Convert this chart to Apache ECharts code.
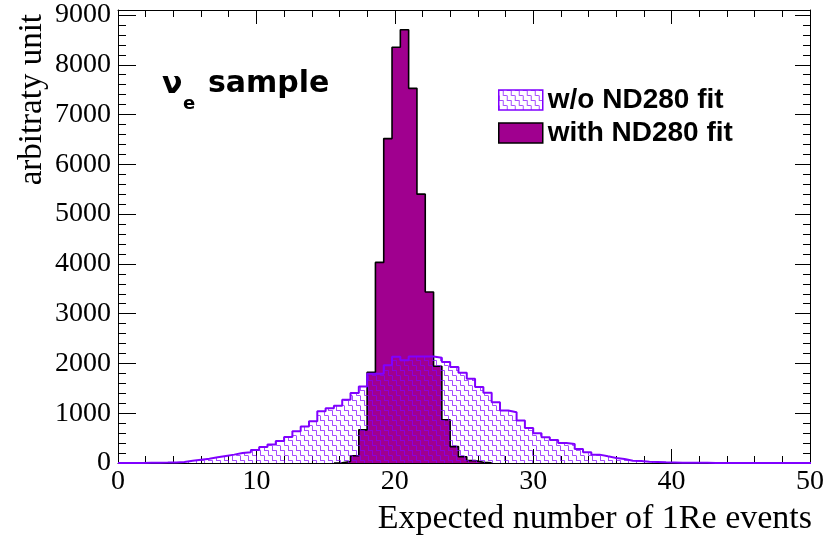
<!DOCTYPE html>
<html><head><meta charset="utf-8">
<script src="https://cdn.jsdelivr.net/npm/echarts@6/dist/echarts.min.js"></script>
<style>html,body{margin:0;padding:0;background:#fff}#c{width:838px;height:538px}</style>
</head><body><div id="c"></div>
<script>
// ---- data ----
const binWidth = 0.6;            // histogram bin width (bins start at 0)
const xRange = [0, 50];
const yRange = [0, 9000];
const seriesNames = ['w/o ND280 fit', 'with ND280 fit'];
// w/o ND280 fit, bins 0..83
const woFitValues = [
  0, 0, 1, 3, 5, 8, 12, 20, 47, 67,
  87, 114, 141, 168, 202, 215, 262, 323, 372, 443,
  524, 640, 732, 839, 1041, 1100, 1149, 1270, 1404, 1538,
  1795, 1795, 1962, 2135, 2062, 2140, 2140, 2140, 2116, 2029,
  1928, 1814, 1693, 1525, 1410, 1222, 1054, 1021, 853, 705,
  600, 517, 463, 403, 383, 282, 215, 168, 134, 101,
  80, 46, 40, 26, 20, 13, 10, 7, 5, 4,
  3, 2, 2, 1, 1, 1, 0, 0, 0, 0,
  0, 0, 0, 0
];
// with ND280 fit, starting at bin 26
const withFitFirstBin = 26;
const withFitValues = [5, 30, 147, 666, 1822, 4030, 6517, 8353, 8703, 7526, 5401, 3436, 1943, 868, 329, 127, 47, 15, 5];

function histPoints(first, vals) {
  const pts = [[first * binWidth, 0]];
  vals.forEach((v, i) => pts.push([(first + i) * binWidth, v]));
  pts.push([(first + vals.length) * binWidth, 0]);
  return pts;
}

function makeHatch() {
  const c = document.createElement('canvas');
  c.width = 8; c.height = 10;
  const g = c.getContext('2d');
  g.strokeStyle = 'rgba(128,0,255,0.7)';
  g.lineWidth = 1;
  g.beginPath();
  g.moveTo(0.5, 5.5); g.lineTo(0.5, 10);
  g.moveTo(0, 0.5); g.lineTo(4.5, 0.5); g.lineTo(4.5, 5.5); g.lineTo(8, 5.5);
  g.stroke();
  return c;
}
const hatch = { image: makeHatch(), repeat: 'repeat' };

const violet = '#8000ff';
const magenta = '#a0008f';
const black = '#000';
const serif = 'Liberation Serif';

const chart = echarts.init(document.getElementById('c'), null, { renderer: 'canvas' });

const frameAxis = { show: true, lineStyle: { color: black, width: 1 }, onZero: false };
const plainNum = v => String(v);
chart.setOption({
  animation: false,
  backgroundColor: '#fff',
  grid: [
    { left: 118, right: 28, top: 10, bottom: 75 },
    { left: 118, right: 28, top: 15, bottom: 75 }
  ],
  xAxis: [
    { gridIndex: 0, type: 'value', min: xRange[0], max: xRange[1], interval: 10, position: 'bottom',
      axisLine: frameAxis,
      axisTick: { show: true, inside: true, length: 14, lineStyle: { color: black } },
      minorTick: { show: true, splitNumber: 5, length: 7, lineStyle: { color: black } },
      axisLabel: { fontFamily: serif, fontSize: 28, color: black, margin: 5, formatter: plainNum },
      splitLine: { show: false } },
    { gridIndex: 0, type: 'value', min: xRange[0], max: xRange[1], interval: 10, position: 'top',
      axisLine: frameAxis,
      axisTick: { show: true, inside: true, length: 14, lineStyle: { color: black } },
      minorTick: { show: true, splitNumber: 5, length: 7, lineStyle: { color: black } },
      axisLabel: { show: false }, splitLine: { show: false } },
    { gridIndex: 1, type: 'value', min: xRange[0], max: xRange[1], show: false }
  ],
  yAxis: [
    { gridIndex: 0, type: 'value', min: 0, max: 1, position: 'left', axisLine: frameAxis,
      axisTick: { show: false }, axisLabel: { show: false }, splitLine: { show: false } },
    { gridIndex: 0, type: 'value', min: 0, max: 1, position: 'right', axisLine: frameAxis,
      axisTick: { show: false }, axisLabel: { show: false }, splitLine: { show: false } },
    { gridIndex: 1, type: 'value', min: yRange[0], max: yRange[1], interval: 1000, position: 'left',
      axisLine: { show: false },
      axisTick: { show: true, inside: true, length: 18, lineStyle: { color: black } },
      minorTick: { show: true, splitNumber: 5, length: 8, lineStyle: { color: black } },
      axisLabel: { fontFamily: serif, fontSize: 28, color: black, margin: 7, formatter: plainNum },
      splitLine: { show: false } },
    { gridIndex: 1, type: 'value', min: yRange[0], max: yRange[1], interval: 1000, position: 'right',
      axisLine: { show: false },
      axisTick: { show: true, inside: true, length: 15, lineStyle: { color: black } },
      minorTick: { show: true, splitNumber: 5, length: 7, lineStyle: { color: black } },
      axisLabel: { show: false }, splitLine: { show: false } }
  ],
  legend: {
    left: 493, top: 81, padding: 5, orient: 'vertical', itemWidth: 44, itemHeight: 20, itemGap: 5,
    selectedMode: false,
    textStyle: { fontFamily: 'Liberation Sans', fontWeight: 'bold', fontSize: 28, color: black },
    data: [
      { name: seriesNames[0], icon: 'rect', itemStyle: { color: hatch, borderColor: violet, borderWidth: 1.5 } },
      { name: seriesNames[1], icon: 'rect', itemStyle: { color: magenta, borderColor: black, borderWidth: 1.5 } }
    ]
  },
  series: [
    { name: seriesNames[1], type: 'line', xAxisIndex: 2, yAxisIndex: 2, step: 'end',
      showSymbol: false, symbol: 'none', z: 2,
      data: histPoints(withFitFirstBin, withFitValues),
      lineStyle: { color: black, width: 1.6 },
      itemStyle: { color: magenta },
      areaStyle: { color: magenta, opacity: 1 } },
    { name: seriesNames[0], type: 'line', xAxisIndex: 2, yAxisIndex: 2, step: 'end',
      showSymbol: false, symbol: 'none', z: 3,
      data: histPoints(0, woFitValues),
      lineStyle: { color: violet, width: 2 },
      itemStyle: { color: violet },
      areaStyle: { color: hatch, opacity: 1 } }
  ],
  graphic: [
    { type: 'text', x: 32, y: 14, rotation: Math.PI / 2,
      style: { text: 'arbitraty unit', font: '33px "Liberation Serif"', fill: black, align: 'right', verticalAlign: 'middle' } },
    { type: 'text', x: 812, y: 519,
      style: { text: 'Expected number of 1Re events', font: '34px "Liberation Serif"', fill: black, align: 'right', verticalAlign: 'middle' } },
    { type: 'text', x: 162, y: 85,
      style: { text: 'ν', font: 'bold 30px "DejaVu Sans"', fill: black, align: 'left', verticalAlign: 'middle' } },
    { type: 'text', x: 183, y: 104,
      style: { text: 'e', font: 'bold 18px "DejaVu Sans"', fill: black, align: 'left', verticalAlign: 'middle' } },
    { type: 'text', x: 208, y: 84,
      style: { text: 'sample', font: 'bold 30px "DejaVu Sans"', fill: black, align: 'left', verticalAlign: 'middle' } }
  ]
});
</script>
</body></html>
